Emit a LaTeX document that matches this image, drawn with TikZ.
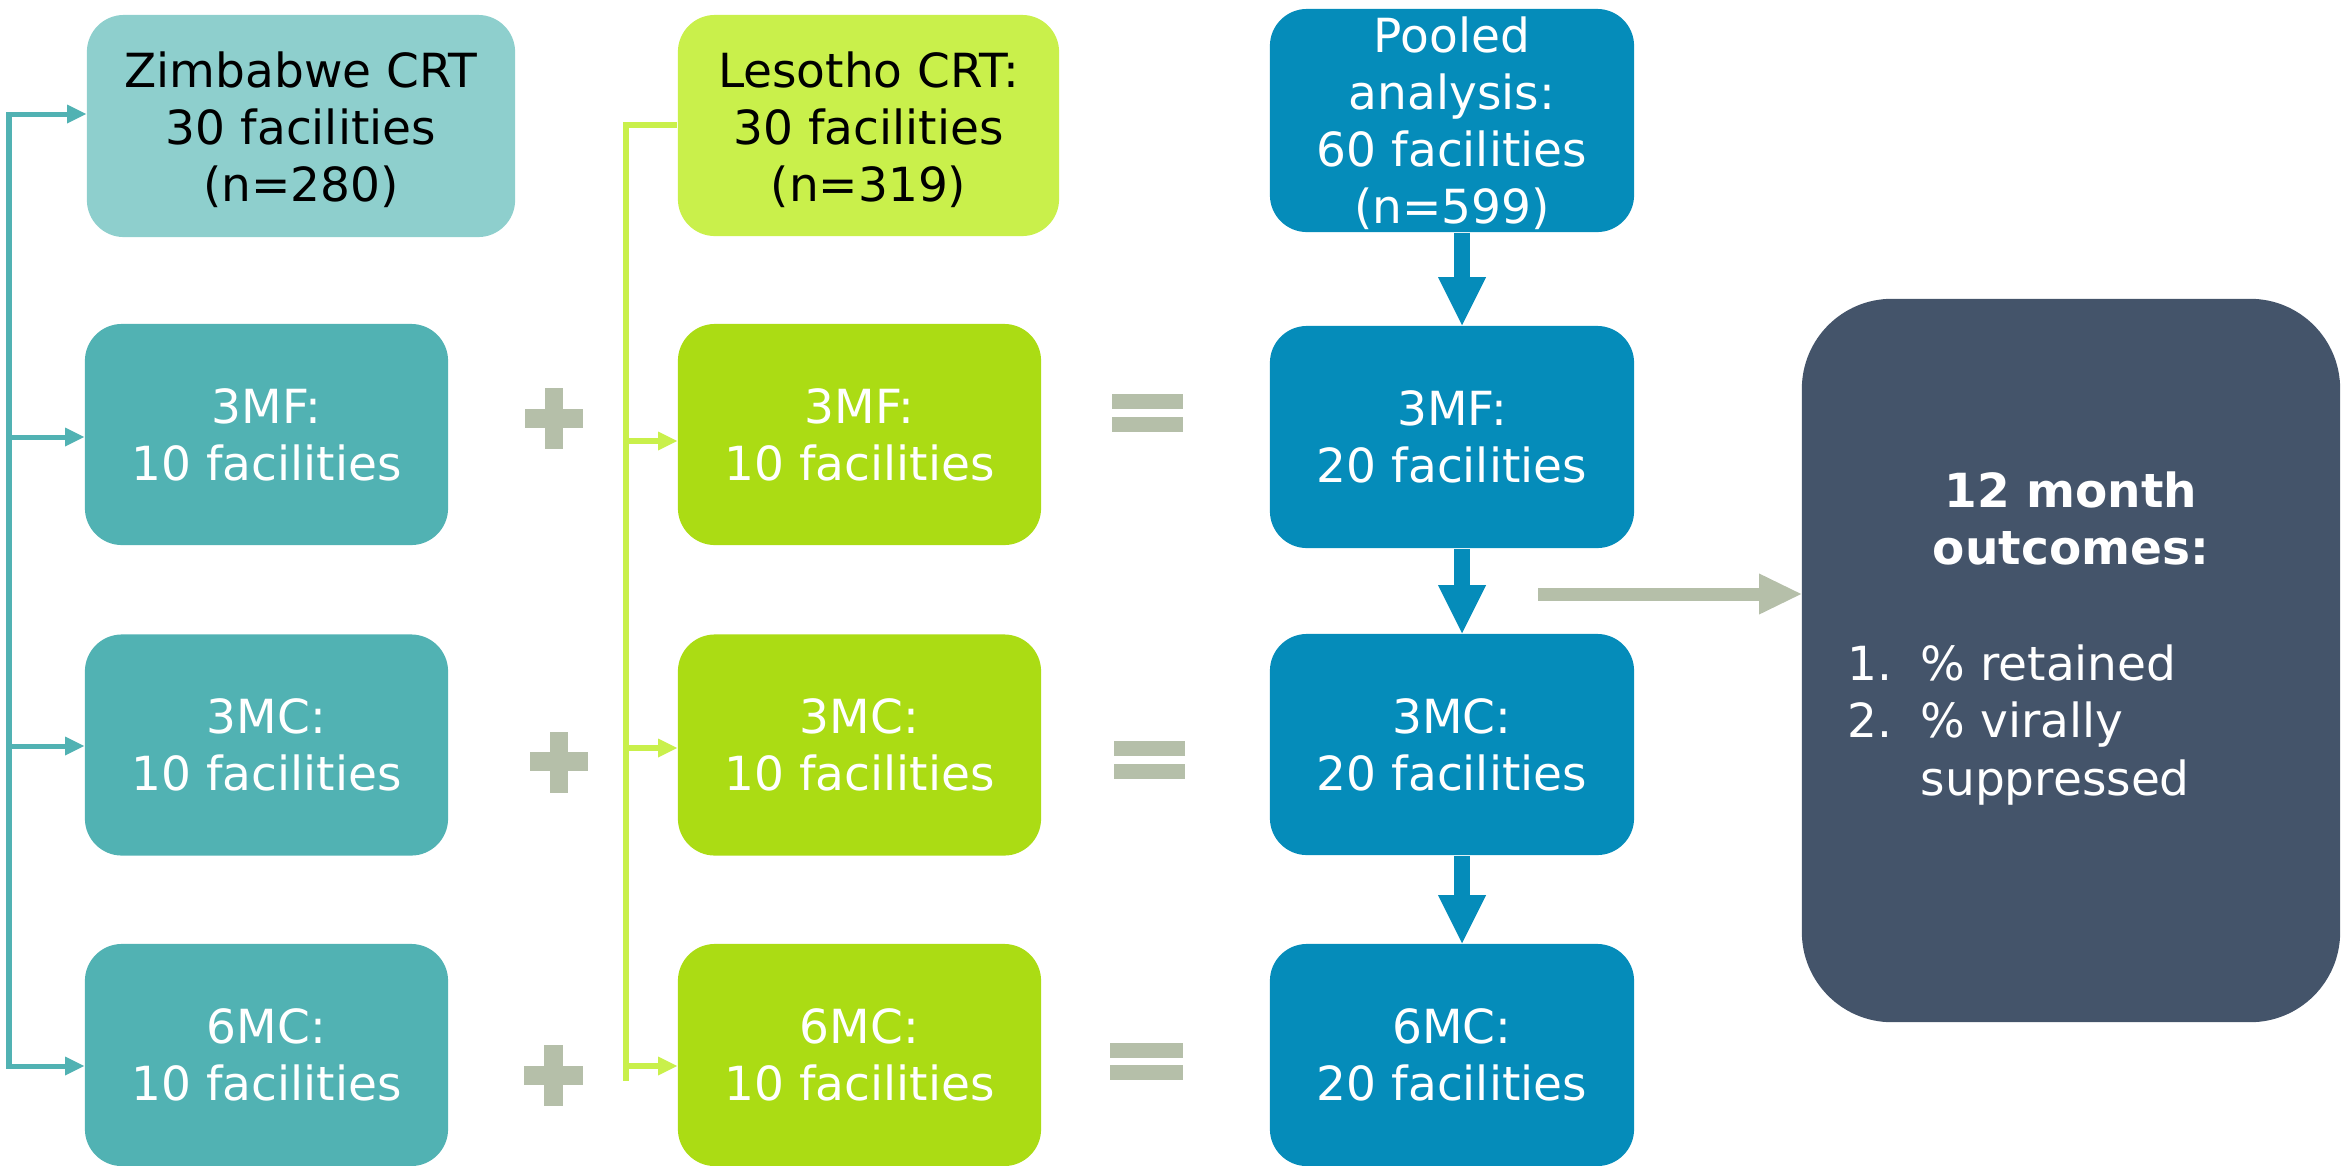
\documentclass[tikz,border=0pt]{standalone}
\usepackage{fontspec}
\setmainfont{DejaVu Sans}
\usetikzlibrary{arrows.meta}
\definecolor{zimhead}{HTML}{8ECFCD}
\definecolor{zimbox}{HTML}{51B2B3}
\definecolor{leshead}{HTML}{C9F04B}
\definecolor{lesbox}{HTML}{ABDC14}
\definecolor{poolbox}{HTML}{058CBA}
\definecolor{outfill}{HTML}{44546A}
\definecolor{symgrey}{HTML}{B5BFA9}
\begin{document}
\begin{tikzpicture}[x=0.01cm, y=-0.01cm,
  txt/.style={font=\fontsize{13.37pt}{16.22pt}\selectfont},
  box/.style={txt, rounded corners=0.37cm, inner sep=0pt, align=center, text=white,
    minimum width=3.63cm, minimum height=2.21cm},
  tealline/.style={draw=zimbox, line width=0.05cm},
  limeline/.style={draw=leshead, line width=0.055cm},
  smalltip/.style={-{Triangle[width=0.19cm, length=0.19cm, line width=0pt]}},
  bluearrow/.style={draw=poolbox, line width=0.16cm, -{Triangle[width=0.48cm, length=0.48cm, line width=0pt]}},
  greyarrow/.style={draw=symgrey, line width=0.13cm, -{Triangle[width=0.41cm, length=0.42cm, line width=0pt]}}
]
\useasboundingbox (0,0) rectangle (2341,1166);

% Zimbabwe column
\node[box, fill=zimhead, text=black, minimum width=4.28cm, minimum height=2.22cm] (zim) at (301,126)
  {\rule{0pt}{0.44cm}Zimbabwe CRT\\30 facilities\\(n=280)};
\node[box, fill=zimbox] (zmf) at (266.5,434.5) {3MF:\\10 facilities};
\node[box, fill=zimbox] (zmc) at (266.5,745) {3MC:\\10 facilities};
\node[box, fill=zimbox, minimum height=2.22cm] (z6) at (266.5,1055) {6MC:\\10 facilities};

% Lesotho column
\node[box, fill=leshead, text=black, minimum width=3.81cm, minimum height=2.21cm] (les) at (868.5,125.5)
  {\rule{0pt}{0.44cm}Lesotho CRT:\\30 facilities\\(n=319)};
\node[box, fill=lesbox] (lmf) at (859.5,434.5) {3MF:\\10 facilities};
\node[box, fill=lesbox] (lmc) at (859.5,745) {3MC:\\10 facilities};
\node[box, fill=lesbox, minimum height=2.22cm] (l6) at (859.5,1055) {6MC:\\10 facilities};

% Pooled column
\node[box, fill=poolbox, minimum width=3.64cm, minimum height=2.23cm] (pool) at (1452,120.5)
  {\rule{0pt}{0.42cm}Pooled\\analysis:\\60 facilities\\(n=599)};
\node[box, fill=poolbox, minimum width=3.64cm, minimum height=2.22cm] (pmf) at (1452,437) {3MF:\\20 facilities};
\node[box, fill=poolbox, minimum width=3.64cm, minimum height=2.21cm] (pmc) at (1452,744.5) {3MC:\\20 facilities};
\node[box, fill=poolbox, minimum width=3.64cm, minimum height=2.22cm] (p6) at (1452,1055) {6MC:\\20 facilities};

% Outcomes box
\node[fill=outfill, rounded corners=0.9cm, inner sep=0pt, minimum width=5.38cm, minimum height=7.23cm] (out) at (2071,660.5) {};
\node[txt, text=white, align=center, inner sep=0pt, font=\fontsize{13.37pt}{16.22pt}\selectfont\bfseries] (outtitle) at (2071,518.5)
  {12 month\\outcomes:};
\node[txt, text=white, align=left, inner sep=0pt, anchor=west, font=\fontsize{13.37pt}{16.36pt}\selectfont] (outlist) at (1847,725)
  {\makebox[0.73cm][l]{1.}\% retained\\\makebox[0.73cm][l]{2.}\% virally\\\hspace*{0.73cm}suppressed};

% Teal bracket
\coordinate (tz) at (9,114);
\coordinate (t2) at (9,437);
\coordinate (t3) at (9,746);
\coordinate (tb) at (9,1066);
\draw[tealline, {Triangle[width=0.19cm, length=0.19cm, line width=0pt]}-{Triangle[width=0.19cm, length=0.19cm, line width=0pt]}]
  (zim.west |- tz) -- (tz) -- (tb) -- (z6.west |- tb);
\draw[tealline, smalltip] (t2) -- (t2 -| zmf.west);
\draw[tealline, smalltip] (t3) -- (t3 -| zmc.west);

% Lime bracket
\coordinate (lt) at (626,125);
\coordinate (l2) at (626,441);
\coordinate (l3) at (626,748);
\coordinate (l4) at (626,1066);
\coordinate (lb) at (626,1081);
\draw[limeline] (les.west |- lt) -- (lt) -- (lb);
\draw[limeline, smalltip] (l2) -- (l2 -| lmf.west);
\draw[limeline, smalltip] (l3) -- (l3 -| lmc.west);
\draw[limeline, smalltip] (l4) -- (l4 -| l6.west);

% Blue arrows
\draw[bluearrow] ([xshift=0.1cm]pool.south) -- ([xshift=0.1cm]pmf.north);
\draw[bluearrow] ([xshift=0.1cm]pmf.south) -- ([xshift=0.1cm]pmc.north);
\draw[bluearrow] ([xshift=0.1cm]pmc.south) -- ([xshift=0.1cm]p6.north);

% Grey arrow to outcomes
\coordinate (gs) at (1538,594);
\draw[greyarrow] (gs) -- (gs -| out.west);

% Plus signs
\fill[symgrey] (525,409) rectangle (583,428);
\fill[symgrey] (545,388) rectangle (563,449);
\fill[symgrey] (530,752) rectangle (588,771);
\fill[symgrey] (550,732) rectangle (568,793);
\fill[symgrey] (524,1066) rectangle (583,1085);
\fill[symgrey] (544,1045) rectangle (563,1106);

% Equals signs
\fill[symgrey] (1112,394) rectangle (1183,409);
\fill[symgrey] (1112,417) rectangle (1183,432);
\fill[symgrey] (1114,741) rectangle (1185,756);
\fill[symgrey] (1114,764) rectangle (1185,779);
\fill[symgrey] (1110,1043) rectangle (1183,1058);
\fill[symgrey] (1110,1065) rectangle (1183,1080);
\end{tikzpicture}
\end{document}
